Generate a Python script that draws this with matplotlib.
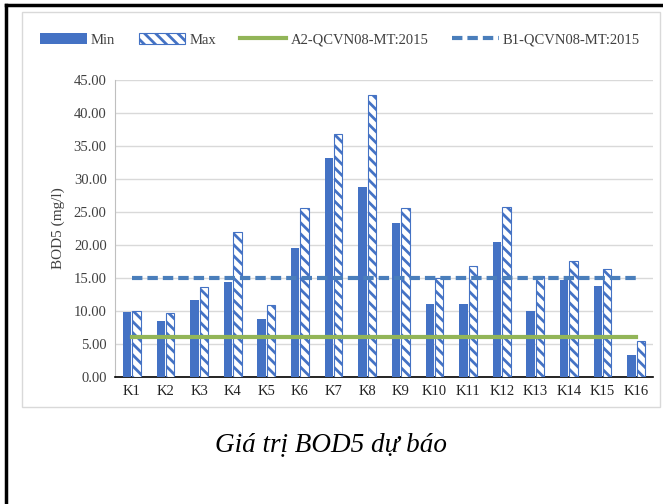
import matplotlib.pyplot as plt
import numpy as np
from matplotlib.patches import Rectangle
from matplotlib.lines import Line2D

plt.rcParams['font.family'] = ['Liberation Serif', 'DejaVu Serif']
plt.rcParams['hatch.linewidth'] = 2.0

# data
stations = ['K1', 'K2', 'K3', 'K4', 'K5', 'K6', 'K7', 'K8',
            'K9', 'K10', 'K11', 'K12', 'K13', 'K14', 'K15', 'K16']
bod_min = [9.8, 8.5, 11.6, 14.3, 8.8, 19.5, 33.2, 28.8,
           23.3, 11.1, 11.1, 20.5, 10.0, 14.6, 13.8, 3.3]
bod_max = [9.9, 9.6, 13.6, 21.9, 10.9, 25.6, 36.8, 42.7,
           25.6, 15.0, 16.8, 25.8, 15.2, 17.5, 16.3, 5.4]
limit_a2 = 6.0
limit_b1 = 15.0

blue = '#4472C4'
green = '#92B558'
dash_blue = '#4A7EBB'
text_grey = '#404040'

fig = plt.figure(figsize=(6.63, 5.04), dpi=100)

# table-cell border (left and top) and the light chart frame
fig.add_artist(Line2D([6 / 663, 6 / 663], [0, 1 - 5 / 504], color='black', lw=2.5,
                      transform=fig.transFigure))
fig.add_artist(Line2D([6 / 663, 1], [1 - 5 / 504, 1 - 5 / 504], color='black', lw=2.5,
                      transform=fig.transFigure))
fig.add_artist(Rectangle((22 / 663, 1 - 407 / 504), (660 - 22) / 663, (407 - 12) / 504,
                         transform=fig.transFigure, fill=False, edgecolor='#D9D9D9', lw=1))

ax = fig.add_axes([115 / 663, 1 - 376.7 / 504, (653 - 115) / 663, (376.7 - 80) / 504])

x = np.arange(len(stations))
w = 0.25
h_min = ax.bar(x - 0.14, bod_min, width=w, color=blue, label='Min', zorder=3)
h_max = ax.bar(x + 0.14, bod_max, width=w, color='white', edgecolor=blue, hatch='\\\\\\',
               linewidth=0.8, label='Max', zorder=3)
h_a2, = ax.plot(x, [limit_a2] * len(x), color=green, lw=3, label='A2-QCVN08-MT:2015', zorder=4)
h_b1, = ax.plot(x, [limit_b1] * len(x), color=dash_blue, lw=3, ls=(0, (2.5, 1.2)),
                label='B1-QCVN08-MT:2015', zorder=4)

ax.set_xlim(-0.5, len(x) - 0.5)
ax.set_ylim(0, 45)
ax.set_yticks(np.arange(0, 46, 5))
ax.set_yticklabels([f'{v:.2f}' for v in np.arange(0, 46, 5)], fontsize=10.5, color=text_grey)
ax.set_xticks(x)
ax.set_xticklabels(stations, fontsize=10.5, color='#222222')
ax.tick_params(length=0, pad=6)
ax.grid(axis='y', color='#D9D9D9', lw=1, zorder=0)
for s in ['top', 'right']:
    ax.spines[s].set_visible(False)
ax.spines['left'].set_color('#BFBFBF')
ax.spines['bottom'].set_color('black')
ax.spines['bottom'].set_linewidth(1.2)
ax.set_ylabel('BOD5 (mg/l)', fontsize=11, color=text_grey, labelpad=6)

leg = fig.legend(handles=[h_min, h_max, h_a2, h_b1],
                 loc='center', bbox_to_anchor=(340 / 663, 1 - 40 / 504), ncol=4, frameon=False,
                 fontsize=10.5, handlelength=3.2, columnspacing=1.6, handletextpad=0.3)
for t in leg.get_texts():
    t.set_color(text_grey)

fig.text(331 / 663, 1 - 445 / 504, 'Giá trị BOD5 dự báo', ha='center', va='center',
         fontsize=19.5, style='italic')

fig.savefig('out.png', dpi=100)
